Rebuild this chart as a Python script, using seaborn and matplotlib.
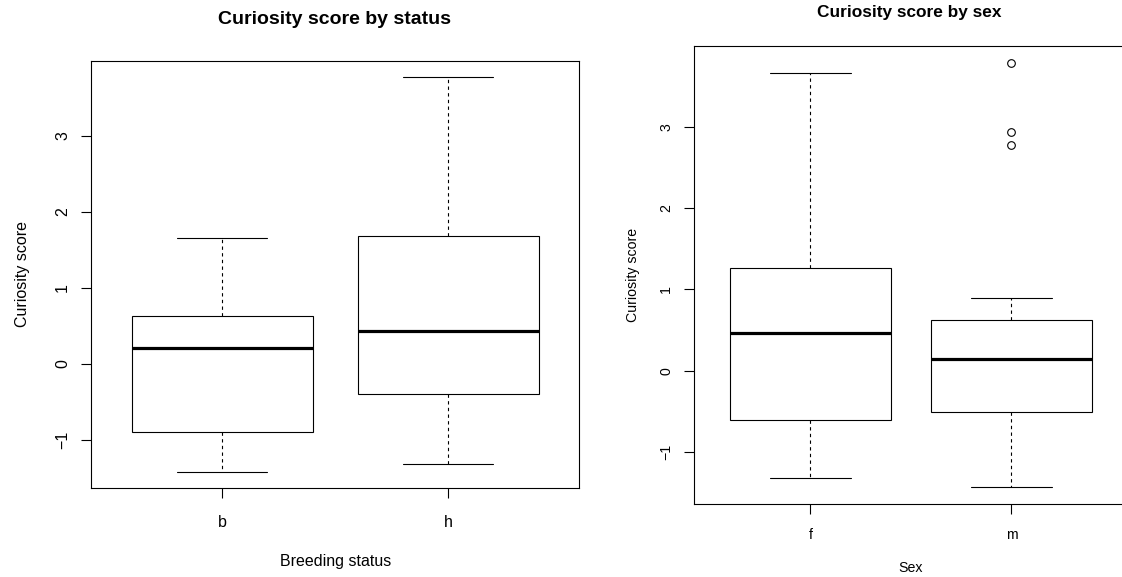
import matplotlib
matplotlib.use("Agg")
import matplotlib.pyplot as plt
import pandas as pd
import seaborn as sns

# valores (por grupo)
estado_b = [-1.42, -0.89, 0.21, 0.63, 1.65]
estado_h = [-1.32, -0.40, 0.43, 1.68, 3.78]
sexo_f = [-1.32, -0.61, 0.47, 1.26, 3.66]
sexo_m = [-1.43, -1.00, -0.80, -0.65, -0.51, -0.35, -0.15, 0.00, 0.15,
          0.30, 0.42, 0.55, 0.63, 0.89, 2.78, 2.94, 3.78]

estados = ['b', 'h']
sexos = ['f', 'm']

df_estado = pd.DataFrame({
    'status': ['b'] * len(estado_b) + ['h'] * len(estado_h),
    'score': estado_b + estado_h,
})
df_sexo = pd.DataFrame({
    'sex': ['f'] * len(sexo_f) + ['m'] * len(sexo_m),
    'score': sexo_f + sexo_m,
})

sns.set_theme(style='white')
plt.rcParams['font.family'] = ['Liberation Sans', 'DejaVu Sans']
plt.rcParams['text.color'] = 'black'
plt.rcParams['axes.labelcolor'] = 'black'
plt.rcParams['xtick.color'] = 'black'
plt.rcParams['ytick.color'] = 'black'

fig = plt.figure(figsize=(11.22, 5.77), dpi=100)
ax1 = fig.add_axes([0.0811, 0.1548, 0.4352, 0.7400])
ax2 = fig.add_axes([0.6185, 0.1265, 0.3868, 0.7932])


def caja(ax, data, x, orden, tam):
    sns.boxplot(data=data, x=x, y='score', order=orden, ax=ax,
                color='white', saturation=1, linecolor='black',
                width=0.8, whis=1.5,
                boxprops=dict(linewidth=0.8),
                whiskerprops=dict(linewidth=0.8, linestyle=(0, (3, 3))),
                capprops=dict(linewidth=0.8),
                medianprops=dict(linewidth=2.3, color='black'),
                flierprops=dict(marker='o', markersize=5.5,
                                markerfacecolor='none',
                                markeredgecolor='black',
                                markeredgewidth=0.8))
    ax.set_xlim(-0.58, 1.58)
    for s in ax.spines.values():
        s.set_visible(True)
        s.set_color('black')
        s.set_linewidth(0.8)
    ax.tick_params(axis='both', which='both', direction='out', length=7,
                   width=0.8, color='black', labelcolor='black',
                   labelsize=tam, left=True, bottom=True)
    ax.tick_params(axis='y', labelrotation=90)
    ax.set_yticks([-1, 0, 1, 2, 3])
    for t in ax.get_yticklabels():
        t.set_va('center')


caja(ax1, df_estado, 'status', estados, 11.5)
ax1.set_ylim(-1.628, 3.988)
ax1.tick_params(axis='y', pad=8)
ax1.tick_params(axis='x', pad=12.5)
ax1.set_xlabel('Breeding status', fontsize=11.5, labelpad=17.5)
ax1.set_ylabel('Curiosity score', fontsize=11.5, labelpad=18)
fig.text(335 / 1122, 1 - 20 / 577, 'Curiosity score by status',
         ha='center', va='center', fontsize=14, fontweight='bold')

caja(ax2, df_sexo, 'sex', sexos, 10.2)
ax2.set_ylim(-1.638, 3.988)
ax2.tick_params(axis='y', pad=8)
ax2.tick_params(axis='x', pad=10)
ax2.set_xlabel('Sex', fontsize=10.2, labelpad=14)
ax2.set_ylabel('Curiosity score', fontsize=10.2, labelpad=14)
fig.text(909 / 1122, 1 - 12 / 577, 'Curiosity score by sex',
         ha='center', va='center', fontsize=12.4, fontweight='bold')

fig.savefig('out.png', dpi=100)
